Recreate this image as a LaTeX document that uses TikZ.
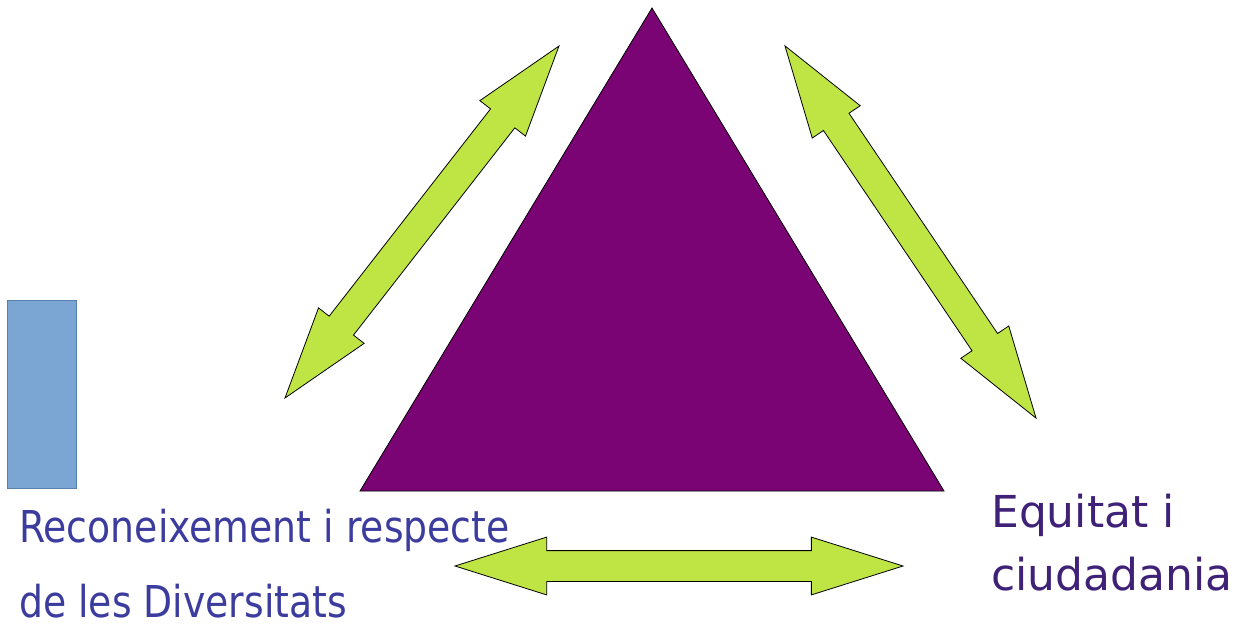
\documentclass[tikz,border=0pt]{standalone}
\usepackage{fontspec}
\usetikzlibrary{shapes.arrows}
\newfontfamily\lefttxt[FakeStretch=0.86]{DejaVu Sans}
\newfontfamily\righttxt{DejaVu Sans}
\definecolor{triPurple}{HTML}{7B0474}
\definecolor{arrLime}{HTML}{BFE545}
\definecolor{rectBlue}{HTML}{7BA5D3}
\definecolor{rectEdge}{HTML}{5A80B2}
\definecolor{txtBlue}{HTML}{3B3C9E}
\definecolor{txtPurple}{HTML}{3F2278}
\tikzset{
  dblarrow/.style={shape=double arrow, draw=black, fill=arrLime, line width=0.8pt,
    inner xsep=0pt, inner ysep=15pt, minimum width=0pt, double arrow head extend=13.5pt,
    double arrow tip angle=35, line join=miter},
  lbl/.style={inner sep=0pt, anchor=base west, text depth=0pt},
}
\begin{document}
\begin{tikzpicture}[x=1pt,y=-1pt]
\useasboundingbox (0,0) rectangle (1247,624);
% triangle
\coordinate (apex) at (652,8);
\coordinate (bl) at (360,491);
\coordinate (br) at (944,491);
\draw[fill=triPurple, line width=0.8pt, line join=miter] (apex) -- (bl) -- (br) -- cycle;
% blue rectangle
\node[draw=rectEdge, fill=rectBlue, line width=1pt, inner sep=0pt, minimum width=69pt, minimum height=188pt] (rect) at (41.5,394) {};
% arrows
\node[dblarrow, minimum height=446pt, rotate=52.1] (arrL) at (422,222) {};
\node[dblarrow, minimum height=449pt, rotate=-56.0] (arrR) at (910.5,232) {};
\node[dblarrow, minimum height=448pt] (arrB) at (679,566) {};
% texts
\node[lbl, text=txtBlue, font=\lefttxt\fontsize{43.9}{50}\selectfont] (l1) at (19,542) {Reconeixement i respecte};
\node[lbl, text=txtBlue, font=\lefttxt\fontsize{43.9}{50}\selectfont] (l2) at (19,617) {de les Diversitats};
\node[lbl, text=txtPurple, font=\righttxt\fontsize{44}{50}\selectfont] (r1) at (991,527) {Equitat i};
\node[lbl, text=txtPurple, font=\righttxt\fontsize{44}{50}\selectfont] (r2) at (991,590) {ciudadania};
\end{tikzpicture}
\end{document}
